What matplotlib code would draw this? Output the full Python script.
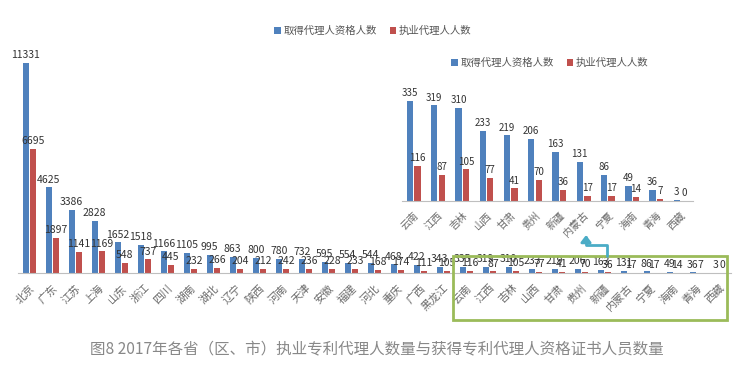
import matplotlib
matplotlib.use("Agg")
import matplotlib.pyplot as plt
import numpy as np
from matplotlib.patches import Rectangle, FancyArrowPatch
from matplotlib.path import Path

plt.rcParams['font.family'] = ['Noto Sans CJK SC', 'DejaVu Sans']

provinces = ["北京", "广东", "江苏", "上海", "山东", "浙江", "四川", "湖南", "湖北", "辽宁",
             "陕西", "河南", "天津", "安徽", "福建", "河北", "重庆", "广西", "黑龙江", "云南",
             "江西", "吉林", "山西", "甘肃", "贵州", "新疆", "内蒙古", "宁夏", "海南", "青海", "西藏"]
qualified = [11331, 4625, 3386, 2828, 1652, 1518, 1166, 1105, 995, 863,
             800, 780, 732, 595, 554, 544, 468, 422, 343, 335,
             319, 310, 233, 219, 206, 163, 131, 86, 49, 36, 3]
practicing = [6695, 1897, 1141, 1169, 548, 737, 445, 232, 266, 204,
              212, 242, 236, 228, 233, 168, 174, 111, 105, 116,
              87, 105, 77, 41, 70, 36, 17, 17, 14, 7, 0]
series_names = ["取得代理人资格人数", "执业代理人人数"]
caption = "图8 2017年各省（区、市）执业专利代理人数量与获得专利代理人资格证书人员数量"
inset_start = 19

BLUE = "#4F81BD"
RED = "#C0504D"
W, H = 743, 374

fig = plt.figure(figsize=(W / 100, H / 100), dpi=100)
fig.patch.set_facecolor("white")


def fx(px):
    return px / W


def fy(py):
    return 1 - py / H


def draw(ax, cats, q, p, fs_lab, fs_tick):
    x = np.arange(len(cats))
    bw = 0.26
    b1 = ax.bar(x - 0.155, q, bw, color=BLUE, zorder=2)
    b2 = ax.bar(x + 0.155, p, bw, color=RED, zorder=2)
    for rect, v in zip(b1, q):
        ax.annotate(str(v), (rect.get_x() + rect.get_width() / 2, v), xytext=(0, 2),
                    textcoords="offset points", ha="center", va="bottom",
                    fontsize=fs_lab, color="#333333", annotation_clip=False)
    for rect, v in zip(b2, p):
        ax.annotate(str(v), (rect.get_x() + rect.get_width() / 2, v), xytext=(0, 2),
                    textcoords="offset points", ha="center", va="bottom",
                    fontsize=fs_lab, color="#333333", annotation_clip=False)
    ax.set_xlim(-0.5, len(cats) - 0.5)
    ax.set_xticks(x)
    ax.set_xticklabels(cats, rotation=45, ha="right", va="top", rotation_mode="anchor",
                       fontsize=fs_tick, color="#6a6a6a")
    ax.tick_params(axis="x", length=0, pad=7)
    ax.set_yticks([])
    for s in ["top", "right", "left"]:
        ax.spines[s].set_visible(False)
    ax.spines["bottom"].set_color("#BFBFBF")
    ax.set_facecolor("none")
    return b1, b2


# main axes
ax = fig.add_axes([fx(17.8), fy(273), fx(713), 210 / H])
ax.set_ylim(0, 11331)
b1, b2 = draw(ax, provinces, qualified, practicing, 7.5, 7.8)
fig.legend([b1, b2], series_names, loc="center", bbox_to_anchor=(fx(373), fy(31)),
           ncol=2, frameon=False, fontsize=7.5, handlelength=0.6, handleheight=0.6,
           handletextpad=0.3, columnspacing=1.2, labelcolor="#555555")

# inset axes
ax2 = fig.add_axes([fx(401.6), fy(200.7), fx(291.2), 100 / H])
ax2.set_ylim(0, 335)
c1, c2 = draw(ax2, provinces[inset_start:], qualified[inset_start:], practicing[inset_start:], 7, 7.3)
fig.legend([c1, c2], series_names, loc="center", bbox_to_anchor=(fx(550), fy(63)),
           ncol=2, frameon=False, fontsize=7.5, handlelength=0.6, handleheight=0.6,
           handletextpad=0.3, columnspacing=1.2, labelcolor="#555555")

# green highlight rectangle
fig.patches.append(Rectangle((fx(453), fy(320)), fx(727) - fx(453), fy(256) - fy(320),
                             transform=fig.transFigure, fill=False, edgecolor="#9BBB59",
                             linewidth=2, zorder=5))

# arrow
verts = [(fx(607), fy(256)), (fx(607), fy(245)), (fx(586), fy(245)), (fx(586), fy(235))]
path = Path(verts, [Path.MOVETO, Path.LINETO, Path.LINETO, Path.LINETO])
arrow = FancyArrowPatch(path=path, transform=fig.transFigure, arrowstyle="-|>,head_length=4,head_width=3",
                        color="#4BACC6", linewidth=2, zorder=6)
fig.patches.append(arrow)

fig.text(fx(377), fy(350), caption, ha="center", va="center", fontsize=11.2, color="#888888")

fig.savefig("out.png", dpi=100, facecolor="white")
